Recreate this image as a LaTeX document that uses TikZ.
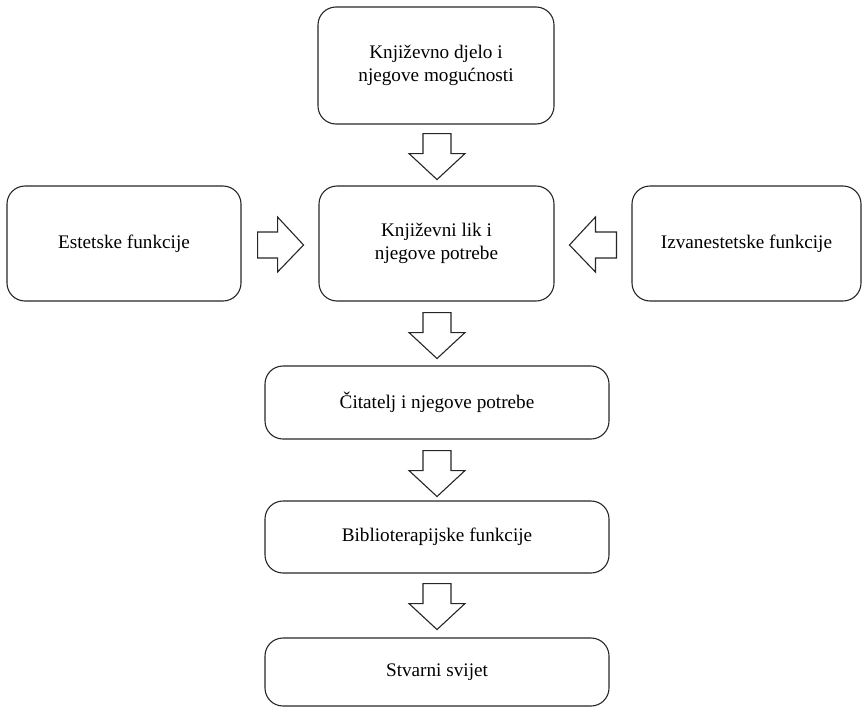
\documentclass[tikz,border=0pt]{standalone}
\usepackage{fontspec}
\setmainfont{Liberation Serif}
\usetikzlibrary{calc}
\begin{document}
\begin{tikzpicture}[x=1pt,y=-1pt,
  box/.style={draw=black!85, line width=1.1pt, rounded corners=18pt, align=center,
    inner sep=0pt, font=\fontsize{19.2}{22.5}\selectfont},
  blk/.style={draw=black!85, line width=1.1pt, fill=white, line join=miter}]
\useasboundingbox (0,0) rectangle (862,707);
\node[box, minimum width=236pt, minimum height=117pt] (top) at (436,65.5) {Književno djelo i\\njegove mogućnosti};
\node[box, minimum width=235pt, minimum height=115pt] (mid) at (436.5,243.5) {Književni lik i\\njegove potrebe};
\node[box, minimum width=234pt, minimum height=115pt] (left) at (124,243.5) {Estetske funkcije};
\node[box, minimum width=229pt, minimum height=115pt] (right) at (746.5,243.5) {Izvanestetske funkcije};
\node[box, minimum width=344pt, minimum height=73pt] (cit) at (437,402.5) {Čitatelj i njegove potrebe};
\node[box, minimum width=344pt, minimum height=72pt] (bib) at (437,537) {Biblioterapijske funkcije};
\node[box, minimum width=344pt, minimum height=68pt] (stv) at (437,672) {Stvarni svijet};
% block arrow anchor points
\coordinate (a1) at ($(top.south)+(1,9)$);
\coordinate (a2) at ($(mid.south)+(0.5,11)$);
\coordinate (a3) at ($(cit.south)+(0,11)$);
\coordinate (a4) at ($(bib.south)+(0,10)$);
\coordinate (ar) at ($(left.east)+(16,1.5)$);
\coordinate (al) at ($(right.west)+(-15,1.5)$);
\foreach \c in {a1,a2,a3,a4}{
  \draw[blk] ($(\c)+(-14,0)$) -- ++(0,20) -- ++(-14,0) -- ++(28,26) -- ++(28,-26) -- ++(-14,0) -- ++(0,-20) -- cycle;
}
\draw[blk] ($(ar)+(0,-13)$) -- ++(20,0) -- ++(0,-15) -- ++(26,28) -- ++(-26,27) -- ++(0,-14) -- ++(-20,0) -- cycle;
\draw[blk] ($(al)+(0,-13)$) -- ++(-21,0) -- ++(0,-15) -- ++(-26,28) -- ++(26,27) -- ++(0,-14) -- ++(21,0) -- cycle;
\end{tikzpicture}
\end{document}
